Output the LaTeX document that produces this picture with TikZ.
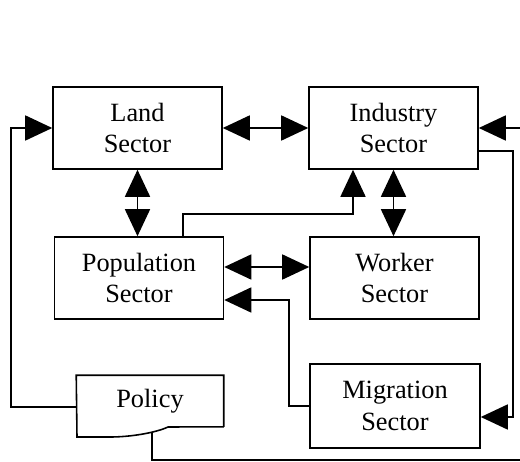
\documentclass[tikz,border=0pt]{standalone}
\usepackage{fontspec}
\setmainfont{Liberation Serif}
\usetikzlibrary{arrows.meta}

\begin{document}
\begin{tikzpicture}[
			x=0.02cm, y=-0.02cm,
			line width=0.9pt,
			sector/.style={draw, minimum width=3.38cm, minimum height=1.64cm, align=center, font=\fontsize{15}{18}\selectfont},
			link/.style={-{Triangle[length=0.54cm, width=0.5cm]}},
			both/.style={{Triangle[length=0.54cm, width=0.5cm]}-{Triangle[length=0.54cm, width=0.5cm]}}
		]
		\useasboundingbox (0,0) rectangle (520,462);
		\node[sector] (land) at (137.5,128) {Land\\Sector};
		\node[sector] (industry) at (393.5,128) {Industry\\Sector};
		\node[sector] (population) at (139,278) {Population\\Sector};
		\node[sector] (worker) at (394.5,278) {Worker\\Sector};
		\node[sector, minimum width=3.4cm, minimum height=1.68cm] (migration) at (395,406) {Migration\\Sector};
		\node[minimum width=2.92cm, minimum height=1cm, font=\fontsize{15}{18}\selectfont] (policy) at (150,401) {Policy};
		\draw (policy.south east) -- (policy.north east) -- (policy.north west) -- (77,437) -- (110,437)
			.. controls (130,437) and (155,433) .. (168,427) -- (policy.south east);
		\coordinate (tail) at (152,432);
		\coordinate (corner) at (534,460);
		\draw[both] (land.east) -- (industry.west);
		\draw[both] (land.south) -- (land.south |- population.north);
		\draw[both] (industry.south) -- (industry.south |- worker.north);
		\draw[both] ([yshift=0.22cm]population.east) -- ([yshift=0.22cm]worker.west);
		\draw[link] ([xshift=0.88cm]population.north) -- ++(0,-22) -| ([xshift=-0.81cm]industry.south);
		\draw[link] (migration.west) -- ++(-20,0) |- ([yshift=-0.44cm]population.east);
		\draw[link] ([yshift=-0.46cm]industry.east) -- ++(34,0) |- ([yshift=-0.22cm]migration.east);
		\draw[link] ([yshift=-0.12cm]policy.west) -- ++(-65,0) |- (land.west);
		\draw[link] (tail) |- (corner) |- (industry.east);
	\end{tikzpicture}
\end{document}
